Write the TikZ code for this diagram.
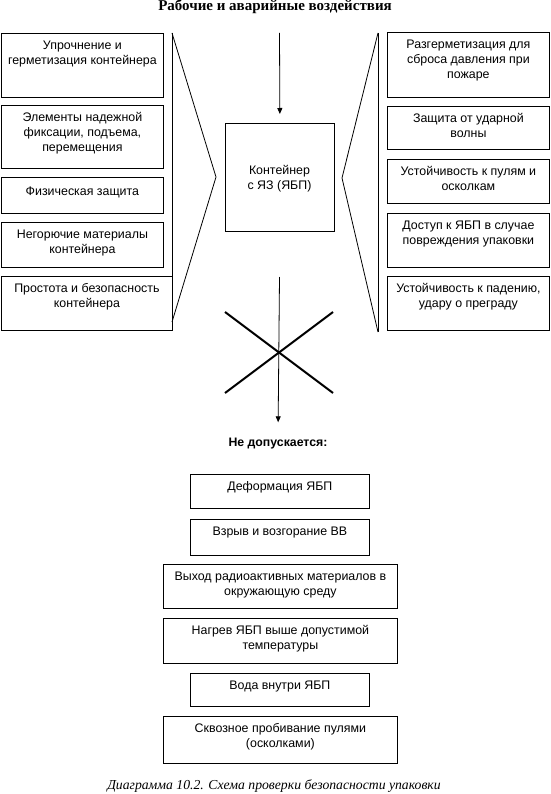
\documentclass[tikz,border=0pt]{standalone}
\usepackage{fontspec}
\setmainfont{Liberation Serif}
\newfontfamily\arialfont{Liberation Sans}
\usetikzlibrary{arrows.meta}
\begin{document}
\begin{tikzpicture}[x=1pt,y=-1pt,
  box/.style={draw, line width=0.8pt, inner sep=0pt, anchor=north west},
  txt/.style={font=\arialfont\fontsize{12.4}{15}\selectfont, align=center, inner sep=0pt, anchor=north, yshift=-7.5pt},
  conn/.style={line width=0.8pt},
  arr/.style={conn, -{Triangle[length=6pt,width=5pt]}},
  crossline/.style={line width=2pt}]
\useasboundingbox (0,0) rectangle (550,794);

% title
\node[font=\bfseries\fontsize{15}{17}\selectfont, anchor=base] (title) at (275,11) {Рабочие и аварийные воздействия};

% left boxes
\node[box, minimum width=162pt, minimum height=64pt] (L1) at (1,33) {};
\node[txt] at (L1.north) {Упрочнение и\\герметизация контейнера};
\node[box, minimum width=162pt, minimum height=63pt] (L2) at (1,105) {};
\node[txt] at (L2.north) {Элементы надежной\\фиксации, подъема,\\перемещения};
\node[box, minimum width=162pt, minimum height=36pt] (L3) at (1,177) {};
\node[txt, yshift=-2pt] at (L3.north) {Физическая защита};
\node[box, minimum width=162pt, minimum height=45pt] (L4) at (1,222) {};
\node[txt] at (L4.north) {Негорючие материалы\\контейнера};
\node[box, minimum width=171pt, minimum height=54pt] (L5) at (1,276) {};
\node[txt] at (L5.north) {Простота и безопасность\\контейнера};

% left bracket
\coordinate (lt) at (172,33);
\coordinate (lb) at (172,330);
\coordinate (la) at (216,177);
\coordinate (le) at (172,322);
\draw[conn] (lt) -- (lb);
\draw[conn] (lt) -- (la) -- (le);

% centre box
\node[box, minimum width=109pt, minimum height=108pt] (C) at (225,123) {};
\node[txt, anchor=center, yshift=0pt] at (279.5,171) {Контейнер\\с ЯЗ (ЯБП)};

% right bracket
\coordinate (rt) at (378,33);
\coordinate (rb) at (378,332);
\coordinate (ra) at (342,178);
\draw[conn] (rt) -- (rb);
\draw[conn] (rt) -- (ra) -- (rb);

% right boxes
\node[box, minimum width=162pt, minimum height=65pt] (R1) at (387,32) {};
\node[txt] at (R1.north) {Разгерметизация для\\сброса давления при\\пожаре};
\node[box, minimum width=162pt, minimum height=43pt] (R2) at (387,106) {};
\node[txt] at (R2.north) {Защита от ударной\\волны};
\node[box, minimum width=162pt, minimum height=44pt] (R3) at (387,159) {};
\node[txt] at (R3.north) {Устойчивость к пулям и\\осколкам};
\node[box, minimum width=162pt, minimum height=54pt] (R4) at (387,213) {};
\node[txt] at (R4.north) {Доступ к ЯБП в случае\\повреждения упаковки};
\node[box, minimum width=162pt, minimum height=54pt] (R5) at (387,276) {};
\node[txt] at (R5.north) {Устойчивость к падению,\\удару о преграду};

% top arrow
\coordinate (topA) at (279.5,33);
\draw[arr, shorten >=9pt] (topA) -- (C.north);

% cross and arrow
\coordinate (x1) at (225,312);
\coordinate (x2) at (333,393);
\coordinate (x3) at (225,393);
\coordinate (x4) at (333,312);
\draw[crossline] (x1) -- (x2);
\draw[crossline] (x3) -- (x4);
\coordinate (botA) at (279.5,277);
\node[font=\arialfont\bfseries\fontsize{12.3}{14}\selectfont, inner sep=0pt] (H) at (278,444) {Не допускается:};
\draw[arr, shorten >=16pt] (botA) -- (H.north);

% bottom boxes
\node[box, minimum width=179pt, minimum height=34pt] (B1) at (190,474) {};
\node[txt] at (B1.north) {Деформация ЯБП};
\node[box, minimum width=179pt, minimum height=36pt] (B2) at (190,519) {};
\node[txt] at (B2.north) {Взрыв и возгорание ВВ};
\node[box, minimum width=234pt, minimum height=44pt] (B3) at (163,564) {};
\node[txt] at (B3.north) {Выход радиоактивных материалов в\\окружающую среду};
\node[box, minimum width=234pt, minimum height=45pt] (B4) at (163,618) {};
\node[txt] at (B4.north) {Нагрев ЯБП выше допустимой\\температуры};
\node[box, minimum width=179pt, minimum height=33pt] (B5) at (190,673) {};
\node[txt] at (B5.north) {Вода внутри ЯБП};
\node[box, minimum width=234pt, minimum height=47pt] (B6) at (163,716) {};
\node[txt] at (B6.north) {Сквозное пробивание пулями\\(осколками)};

% caption
\node[font=\itshape\fontsize{13.7}{15}\selectfont, anchor=base] (cap) at (274,789) {Диаграмма 10.2. Схема проверки безопасности упаковки};
\end{tikzpicture}
\end{document}
